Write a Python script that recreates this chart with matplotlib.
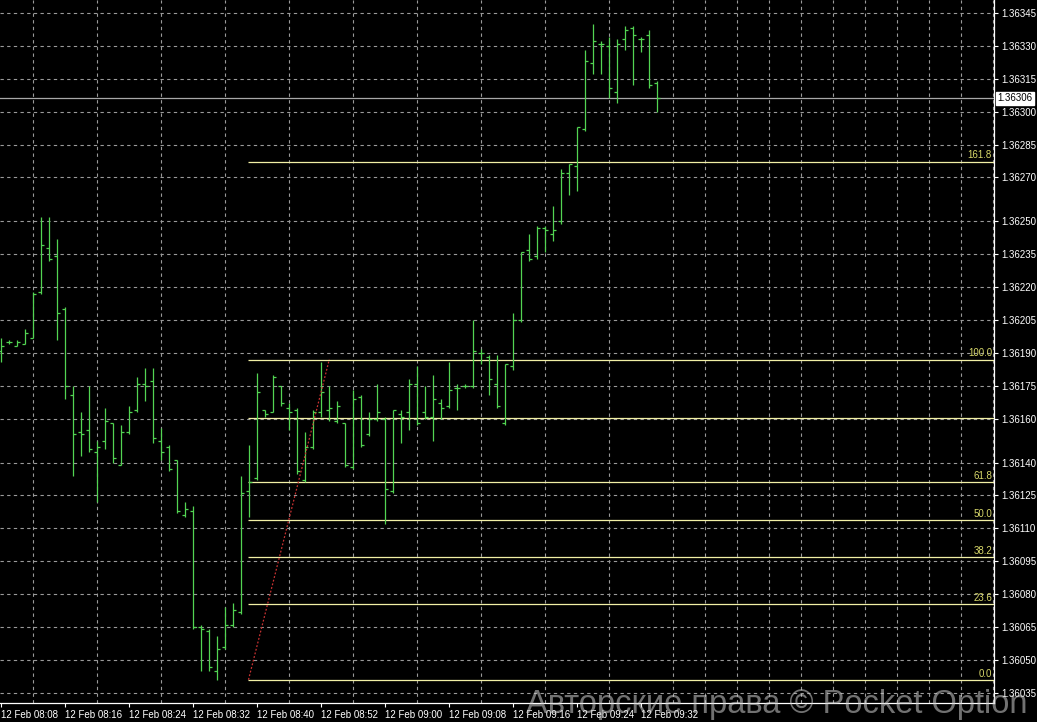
import matplotlib
matplotlib.use("Agg")
import matplotlib.pyplot as plt
import matplotlib.transforms as mtransforms

plt.rcParams["font.family"] = ["Liberation Sans", "DejaVu Sans"]

# 1-minute bars, EURUSD-style quotes
opens = [1.36191, 1.36195, 1.36193, 1.36194, 1.36197, 1.36218, 1.36238, 1.36234, 1.36210, 1.36171,
         1.36154, 1.36155, 1.36145, 1.36150, 1.36158, 1.36139, 1.36154, 1.36164, 1.36176, 1.36177,
         1.36150, 1.36147, 1.36141, 1.36116, 1.36118, 1.36065, 1.36063, 1.36045, 1.36056, 1.36066,
         1.36072, 1.36127, 1.36133, 1.36164, 1.36163, 1.36175, 1.36165, 1.36164, 1.36132, 1.36147,
         1.36163, 1.36164, 1.36159, 1.36158, 1.36138, 1.36170, 1.36153, 1.36160, 1.36160, 1.36127,
         1.36162, 1.36163, 1.36176, 1.36163, 1.36161, 1.36167, 1.36166, 1.36174, 1.36175, 1.36175,
         1.36190, 1.36188, 1.36176, 1.36158, 1.36184, 1.36205, 1.36237, 1.36234, 1.36247, 1.36244,
         1.36250, 1.36272, 1.36275, 1.36292, 1.36322, 1.36331, 1.36330, 1.36309, 1.36333, 1.36338,
         1.36333, 1.36335, 1.36313]
highs = [1.36197, 1.36196, 1.36196, 1.36201, 1.36218, 1.36252, 1.36252, 1.36242, 1.36211, 1.36175,
         1.36163, 1.36175, 1.36150, 1.36165, 1.36158, 1.36157, 1.36166, 1.36179, 1.36183, 1.36183,
         1.36156, 1.36148, 1.36141, 1.36122, 1.36120, 1.36066, 1.36064, 1.36061, 1.36074, 1.36076,
         1.36134, 1.36148, 1.36181, 1.36164, 1.36180, 1.36175, 1.36167, 1.36165, 1.36154, 1.36164,
         1.36186, 1.36175, 1.36168, 1.36158, 1.36173, 1.36171, 1.36163, 1.36176, 1.36161, 1.36164,
         1.36164, 1.36178, 1.36184, 1.36175, 1.36180, 1.36169, 1.36186, 1.36176, 1.36176, 1.36205,
         1.36192, 1.36189, 1.36189, 1.36185, 1.36208, 1.36236, 1.36244, 1.36248, 1.36248, 1.36257,
         1.36274, 1.36276, 1.36293, 1.36328, 1.36340, 1.36332, 1.36334, 1.36333, 1.36339, 1.36339,
         1.36334, 1.36337, 1.36314]
lows = [1.36186, 1.36194, 1.36193, 1.36194, 1.36197, 1.36217, 1.36232, 1.36196, 1.36169, 1.36134,
        1.36143, 1.36145, 1.36122, 1.36146, 1.36140, 1.36139, 1.36153, 1.36163, 1.36168, 1.36149,
        1.36141, 1.36136, 1.36117, 1.36115, 1.36064, 1.36045, 1.36045, 1.36041, 1.36055, 1.36065,
        1.36071, 1.36115, 1.36132, 1.36161, 1.36163, 1.36166, 1.36155, 1.36135, 1.36131, 1.36146,
        1.36161, 1.36159, 1.36158, 1.36138, 1.36137, 1.36147, 1.36152, 1.36159, 1.36112, 1.36126,
        1.36149, 1.36155, 1.36157, 1.36160, 1.36150, 1.36160, 1.36165, 1.36164, 1.36174, 1.36174,
        1.36185, 1.36171, 1.36165, 1.36157, 1.36182, 1.36204, 1.36232, 1.36233, 1.36236, 1.36241,
        1.36249, 1.36262, 1.36264, 1.36291, 1.36317, 1.36317, 1.36306, 1.36304, 1.36328, 1.36312,
        1.36327, 1.36311, 1.36300]
closes = [1.36193, 1.36195, 1.36195, 1.36199, 1.36217, 1.36239, 1.36233, 1.36208, 1.36175, 1.36153,
          1.36153, 1.36146, 1.36147, 1.36159, 1.36142, 1.36154, 1.36163, 1.36176, 1.36175, 1.36151,
          1.36145, 1.36137, 1.36118, 1.36119, 1.36065, 1.36064, 1.36047, 1.36055, 1.36066, 1.36073,
          1.36126, 1.36131, 1.36172, 1.36162, 1.36179, 1.36167, 1.36163, 1.36136, 1.36147, 1.36163,
          1.36172, 1.36165, 1.36166, 1.36139, 1.36169, 1.36148, 1.36160, 1.36163, 1.36128, 1.36164,
          1.36161, 1.36176, 1.36158, 1.36161, 1.36169, 1.36165, 1.36173, 1.36174, 1.36175, 1.36191,
          1.36190, 1.36178, 1.36166, 1.36185, 1.36205, 1.36236, 1.36233, 1.36247, 1.36246, 1.36246,
          1.36272, 1.36276, 1.36293, 1.36323, 1.36332, 1.36331, 1.36311, 1.36331, 1.36337, 1.36335,
          1.36333, 1.36312, 1.36306]

time_labels = ["12 Feb 08:08", "12 Feb 08:16", "12 Feb 08:24", "12 Feb 08:32", "12 Feb 08:40",
               "12 Feb 08:52", "12 Feb 09:00", "12 Feb 09:08", "12 Feb 09:16", "12 Feb 09:24",
               "12 Feb 09:32"]
price_ticks = [1.36345, 1.36330, 1.36315, 1.36300, 1.36285, 1.36270, 1.36250, 1.36235, 1.36220,
               1.36205, 1.36190, 1.36175, 1.36160, 1.36140, 1.36125, 1.36110, 1.36095, 1.36080,
               1.36065, 1.36050, 1.36035]

# fibonacci retracement: anchors (bar index, price)
fib_low = (31, 1.36041)
fib_high = (41, 1.36187)
fib_levels = [0.0, 23.6, 38.2, 50.0, 61.8, 81.8, 100.0, 161.8]
fib_names = ["0.0", "23.6", "38.2", "50.0", "61.8", "", "100.0", "161.8"]
last_price = 1.36306

BAR = "#52d452"
FIB = "#f2f0a6"
GRID = "#9a9a9a"

fig = plt.figure(figsize=(10.37, 7.22), dpi=100, facecolor="black")
ax = fig.add_axes([0, 19 / 722, 994 / 1037, 703 / 722], facecolor="black")

idx = list(range(len(opens)))
ax.vlines(idx, lows, highs, color=BAR, lw=0.9, zorder=3)
ax.hlines(opens, [i - 0.4 for i in idx], idx, color=BAR, lw=0.9, zorder=3)
ax.hlines(closes, idx, [i + 0.4 for i in idx], color=BAR, lw=0.9, zorder=3)

xmin, xmax = -0.16, 124.09
ax.set_xlim(xmin, xmax)
ax.set_ylim(1.360304, 1.363509)

# fib levels
rng = fib_high[1] - fib_low[1]
trans = mtransforms.blended_transform_factory(ax.transAxes, ax.transData)
for lev, name in zip(fib_levels, fib_names):
    y = fib_low[1] + rng * lev / 100.0
    ax.hlines(y, fib_low[0] - 0.1, xmax, color=FIB, lw=0.9, zorder=2)
    if name:
        ax.text(0.998, y + 0.000005, name, transform=trans, ha="right", va="bottom",
                color="#d8d86a", fontsize=7, zorder=4)
ax.plot([fib_low[0] - 0.1, fib_high[0]], [fib_low[1], fib_high[1]], color="#c83232",
        lw=0.9, ls=(0, (1.5, 1.5)), zorder=4)

# last price line + label
ax.axhline(last_price, color="#a8a8a8", lw=0.9, zorder=2)
ax.text(1.003, last_price, "1.36306", transform=trans, ha="left", va="center", fontsize=7,
        color="black", clip_on=False,
        bbox=dict(boxstyle="square,pad=0.15", fc="white", ec="white"))

# grid
ax.set_xticks(range(0, 125, 4), minor=True)
ax.set_xticks(range(0, 81, 8))
ax.set_xticklabels(time_labels)
ax.set_yticks(price_ticks)
ax.set_yticklabels(["%.5f" % p for p in price_ticks])
ax.grid(which="minor", axis="x", color=GRID, lw=0.8, ls=(0, (3, 3)))
ax.grid(which="major", axis="y", color=GRID, lw=0.8, ls=(0, (3, 3)))

ax.yaxis.tick_right()
ax.tick_params(axis="y", colors="white", labelsize=7, length=3, width=0.8, pad=2)
ax.tick_params(axis="x", which="major", colors="white", labelsize=7, length=3, width=0.8, pad=2)
ax.tick_params(axis="x", which="minor", length=0)
for lbl in ax.get_xticklabels():
    lbl.set_ha("left")
for s in ["top", "left"]:
    ax.spines[s].set_visible(False)
for s in ["right", "bottom"]:
    ax.spines[s].set_color("white")
    ax.spines[s].set_linewidth(0.9)

fig.text(1027 / 1037, 9 / 722, "Авторские права © Pocket Option", ha="right", va="baseline",
         fontsize=23.5, color="#d0d0d0", alpha=0.55)

fig.savefig("out.png", dpi=100, facecolor="black")
